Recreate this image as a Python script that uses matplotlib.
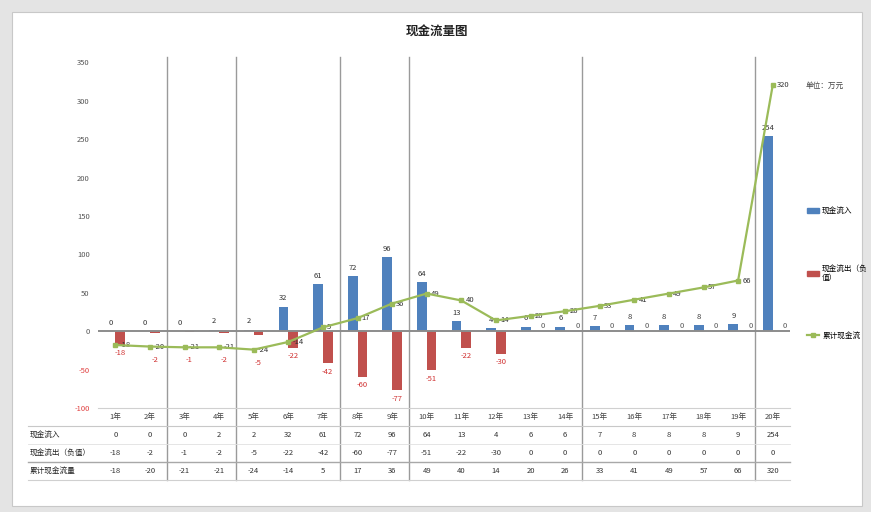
import matplotlib
matplotlib.use("Agg")
import matplotlib.pyplot as plt
import matplotlib.transforms as mtransforms
from matplotlib.patches import Rectangle
from matplotlib.lines import Line2D
import numpy as np

plt.rcParams['font.family'] = ['Noto Sans CJK SC', 'DejaVu Sans']

# 现金流数据（万元）
periods = ['1年', '2年', '3年', '4年', '5年', '6年', '7年', '8年', '9年', '10年',
           '11年', '12年', '13年', '14年', '15年', '16年', '17年', '18年', '19年', '20年']
inflow = [0, 0, 0, 2, 2, 32, 61, 72, 96, 64, 13, 4, 6, 6, 7, 8, 8, 8, 9, 254]
outflow = [-18, -2, -1, -2, -5, -22, -42, -60, -77, -51, -22, -30, 0, 0, 0, 0, 0, 0, 0, 0]
cumulative = [-18, -20, -21, -21, -24, -14, 5, 17, 36, 49, 40, 14, 20, 26, 33, 41, 49, 57, 66, 320]
phase_breaks = [1.5, 3.5, 6.5, 8.5, 13.5, 18.5]

row_names = ['现金流入', '现金流出（负值）', '累计现金流量']
legend_names = ['现金流入', '现金流出（负\n值）', '累计现金流']

W, H = 871, 512
fig = plt.figure(figsize=(W / 100, H / 100), dpi=100, facecolor='#e4e4e4')

def fy(py):
    # 像素行号 -> figure 坐标
    return 1 - py / H

# 白色底板
fig.patches.append(Rectangle((12 / W, fy(506)), (862 - 12) / W, (506 - 12) / H,
                             transform=fig.transFigure, facecolor='white',
                             edgecolor='#c8c8c8', lw=0.8, zorder=-5))

ax = fig.add_axes([98 / W, fy(408), 692 / W, (408 - 57) / H])
ax.set_zorder(2)
ax.set_facecolor('none')
x = np.arange(len(periods))
ax.set_xlim(-0.5, len(periods) - 0.5)
ax.set_ylim(-100, 357)

blue, red, green = '#4F81BD', '#C0504D', '#9BBB59'
bw = 0.28
ax.bar(x - 0.14, inflow, bw, color=blue, zorder=2)
ax.bar(x + 0.14, outflow, bw, color=red, zorder=2)
ax.axhline(0, color='#8c8c8c', lw=1.4, zorder=3)
ax.plot(x, cumulative, color=green, lw=1.6, marker='s', ms=3,
        markerfacecolor=green, zorder=4)

fs = 5.5
for i in x:
    ax.annotate(str(inflow[i]), (i - 0.14, max(inflow[i], 0)), xytext=(0, 3),
                textcoords='offset points', ha='center', va='bottom',
                fontsize=fs, color='#333333')
    if outflow[i] <= -10:
        ax.annotate(str(outflow[i]), (i + 0.14, outflow[i]), xytext=(0, -3),
                    textcoords='offset points', ha='center', va='top',
                    fontsize=fs, color='#d03030')
    elif outflow[i] < 0:
        # 小额流出：标签放到折线标签下方
        ax.annotate(str(outflow[i]), (i + 0.14, outflow[i]), xytext=(0, -17),
                    textcoords='offset points', ha='center', va='top',
                    fontsize=fs, color='#d03030')
    else:
        ax.annotate(str(outflow[i]), (i + 0.3, 0), xytext=(0, 1),
                    textcoords='offset points', ha='left', va='bottom',
                    fontsize=fs, color='#555555')
    ax.annotate(str(cumulative[i]), (i, cumulative[i]), xytext=(3, 0),
                textcoords='offset points', ha='left', va='center',
                fontsize=fs, color='#333333')

ax.text(len(periods) - 0.05, cumulative[-1], '单位：万元', fontsize=fs,
        color='#444444', va='center', ha='left')

ax.set_yticks(np.arange(-100, 351, 50))
ax.set_yticklabels([str(v) for v in range(-100, 351, 50)], fontsize=fs)
for lab, v in zip(ax.get_yticklabels(), range(-100, 351, 50)):
    lab.set_color('#e04040' if v < 0 else '#555555')
ax.tick_params(axis='y', length=0, pad=6)
ax.set_xticks([])
for s in ax.spines.values():
    s.set_visible(False)

# 阶段分隔线，贯穿图表与数据表
blend = mtransforms.blended_transform_factory(ax.transData, fig.transFigure)
for b in phase_breaks:
    fig.add_artist(Line2D([b, b], [fy(57), fy(480)], transform=blend,
                          color='#9a9a9a', lw=1.0))

# 数据表
x0 = 98 / W
x_right = 790 / W
fig.add_artist(Line2D([x0, x_right], [fy(408), fy(408)], color='#d0d0d0', lw=0.8))
for py, c, lw in [(426, '#c8c8c8', 0.8), (444, '#e0e0e0', 0.6),
                  (462, '#a8a8a8', 1.0), (480, '#d0d0d0', 0.8)]:
    fig.add_artist(Line2D([28 / W, x_right], [fy(py), fy(py)], color=c, lw=lw))

for i, p in enumerate(periods):
    fig.text(i, fy(417), p, transform=blend, ha='center', va='center',
             fontsize=fs, color='#444444')
rows = [inflow, outflow, cumulative]
row_y = [435, 453, 471]
for name, vals, py in zip(row_names, rows, row_y):
    fig.text(30 / W, fy(py), name, ha='left', va='center', fontsize=fs,
             color='#222222')
    for i, v in enumerate(vals):
        fig.text(i, fy(py), str(v), transform=blend, ha='center',
                 va='center', fontsize=fs, color='#333333')

fig.text(437 / W, fy(32), '现金流量图', ha='center', va='center',
         fontsize=9, fontweight='bold', color='#222222')

handles = [Rectangle((0, 0), 1, 1, color=blue),
           Rectangle((0, 0), 1, 1, color=red),
           Line2D([], [], color=green, lw=1.6, marker='s', ms=3)]
fig.legend(handles, legend_names, loc='upper left',
           bbox_to_anchor=(800 / W, fy(200)), frameon=False, fontsize=fs,
           labelspacing=6.5, handlelength=1.6, handleheight=0.6,
           handletextpad=0.4)

fig.savefig('out.png', dpi=100, facecolor=fig.get_facecolor())
